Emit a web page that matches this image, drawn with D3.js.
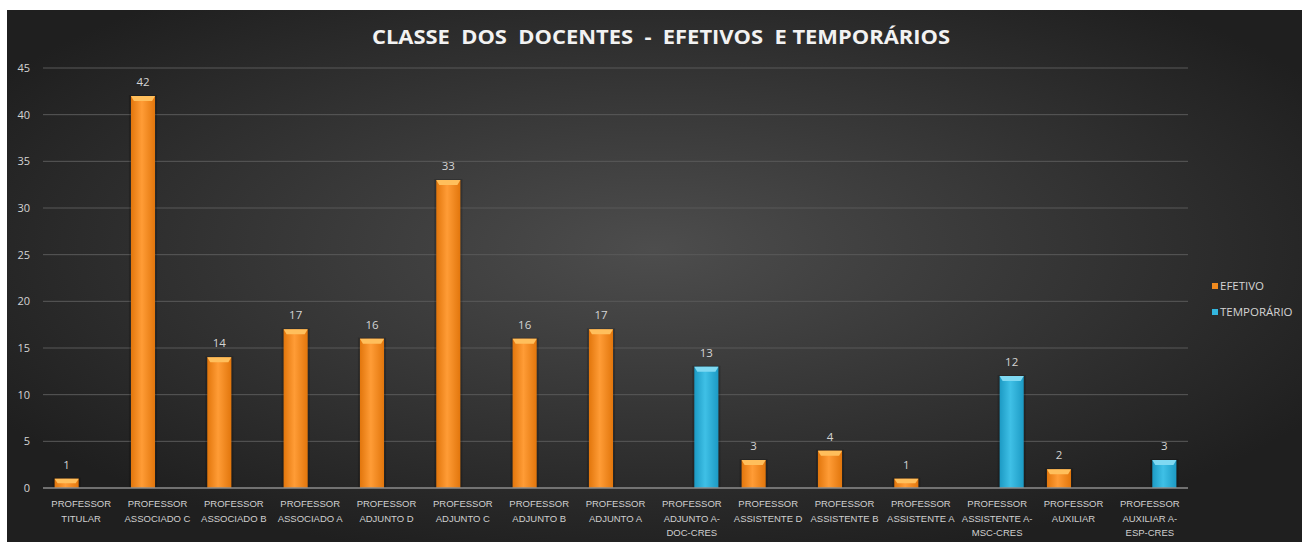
<!DOCTYPE html>
<html>
<head>
<meta charset="utf-8">
<script src="https://cdn.jsdelivr.net/npm/d3@7"></script>
<style>
  body { margin: 0; background: #ffffff; }
  svg { display: block; }
</style>
</head>
<body>
<div id="chart"></div>
<script>
// data
var categories = [
  "PROFESSOR|TITULAR", "PROFESSOR|ASSOCIADO C", "PROFESSOR|ASSOCIADO B", "PROFESSOR|ASSOCIADO A",
  "PROFESSOR|ADJUNTO D", "PROFESSOR|ADJUNTO C", "PROFESSOR|ADJUNTO B", "PROFESSOR|ADJUNTO A",
  "PROFESSOR|ADJUNTO A-|DOC-CRES", "PROFESSOR|ASSISTENTE D", "PROFESSOR|ASSISTENTE B",
  "PROFESSOR|ASSISTENTE A", "PROFESSOR|ASSISTENTE A-|MSC-CRES", "PROFESSOR|AUXILIAR",
  "PROFESSOR|AUXILIAR A-|ESP-CRES"
];
var seriesNames = ["EFETIVO", "TEMPORÁRIO"];
var efetivo = [1, 42, 14, 17, 16, 33, 16, 17, 0, 3, 4, 1, 0, 2, 0];
var temporario = [0, 0, 0, 0, 0, 0, 0, 0, 13, 0, 0, 0, 12, 0, 3];
var yTicks = [0, 5, 10, 15, 20, 25, 30, 35, 40, 45];

var svgWidth = 1302;
var svgHeight = 542;

var margin = { top: 68, left: 43, right: 114, bottom: 54 };
var width = svgWidth - margin.left - margin.right;
var height = svgHeight - margin.top - margin.bottom;

var svg = d3.select("#chart")
    .append("svg")
    .attr("width", svgWidth)
    .attr("height", svgHeight);

var defs = svg.append("defs");

// dark background with lighter middle
var bg = defs.append("radialGradient")
    .attr("id", "bg")
    .attr("cx", "50%").attr("cy", "45%").attr("r", "60%");
bg.append("stop").attr("offset", "0%").attr("stop-color", "#4d4d4d");
bg.append("stop").attr("offset", "100%").attr("stop-color", "#1f1f1f");

function barGradient(id, edge, mid) {
    var g = defs.append("linearGradient").attr("id", id)
        .attr("x1", "0%").attr("x2", "100%").attr("y1", "0%").attr("y2", "0%");
    g.append("stop").attr("offset", "0%").attr("stop-color", edge);
    g.append("stop").attr("offset", "45%").attr("stop-color", mid);
    g.append("stop").attr("offset", "100%").attr("stop-color", edge);
}
barGradient("gEfetivo", "#e2760c", "#ff9c36");
barGradient("gTemporario", "#1c9ac4", "#3fc0e6");

var colors = { "EFETIVO": "url(#gEfetivo)", "TEMPORÁRIO": "url(#gTemporario)" };
var capColors = { "EFETIVO": "#ffbf5c", "TEMPORÁRIO": "#7fd9f2" };
var legendColors = { "EFETIVO": "#f08a1e", "TEMPORÁRIO": "#33b6de" };

svg.append("rect")
    .attr("x", 7).attr("y", 10)
    .attr("width", svgWidth - 7).attr("height", svgHeight - 10)
    .attr("fill", "url(#bg)");

var chartGroup = svg.append("g")
    .attr("transform", `translate(${margin.left}, ${margin.top})`);

// scales
var x0 = d3.scaleBand()
    .domain(categories)
    .range([0, width])
    .padding(0);

var bw = x0.bandwidth();
var x1 = d3.scaleBand()
    .domain(seriesNames)
    .range([bw * 0.152, bw * 0.848])
    .paddingInner(0.17);

var y = d3.scaleLinear()
    .domain([0, 45])
    .range([height, 0]);

// gridlines
chartGroup.append("g")
    .selectAll("line")
    .data(yTicks.filter(d => d > 0))
    .enter()
    .append("line")
    .attr("x1", 0).attr("x2", width)
    .attr("y1", d => y(d)).attr("y2", d => y(d))
    .attr("stroke", "#595959")
    .attr("stroke-width", 1);

// y axis labels
var leftAxis = d3.axisLeft(y).tickValues(yTicks).tickSize(0).tickPadding(13);
var yAxis = chartGroup.append("g").call(leftAxis);
yAxis.select(".domain").remove();
yAxis.selectAll("text")
    .attr("fill", "#d4d4d4")
    .style("font-family", "'Open Sans', sans-serif")
    .style("font-size", "11px");

// rows for drawing
var rows = categories.map(function (c, i) {
    return { cat: c, values: [
        { series: "EFETIVO", value: efetivo[i] },
        { series: "TEMPORÁRIO", value: temporario[i] }
    ] };
});

var groups = chartGroup.selectAll(".cat")
    .data(rows)
    .enter()
    .append("g")
    .attr("class", "cat")
    .attr("transform", d => `translate(${x0(d.cat)}, 0)`);

var bars = groups.selectAll(".bar")
    .data(d => d.values.filter(v => v.value > 0))
    .enter()
    .append("g")
    .attr("class", "bar");

// soft shadow around the bar
bars.append("rect")
    .attr("x", d => x1(d.series) - 2)
    .attr("y", d => y(d.value) - 1)
    .attr("width", x1.bandwidth() + 4)
    .attr("height", d => height - y(d.value) + 1)
    .attr("fill", "#000")
    .attr("opacity", 0.18);

bars.append("rect")
    .attr("x", d => x1(d.series))
    .attr("y", d => y(d.value))
    .attr("width", x1.bandwidth())
    .attr("height", d => height - y(d.value))
    .attr("fill", d => colors[d.series]);

// bevelled top
bars.append("path")
    .attr("d", function (d) {
        var xl = x1(d.series), xr = xl + x1.bandwidth(), yt = y(d.value);
        var h = Math.min(5, (height - yt) / 2);
        return `M${xl},${yt}L${xr},${yt}L${xr - 3},${yt + h}L${xl + 3},${yt + h}Z`;
    })
    .attr("fill", d => capColors[d.series]);

// value labels
bars.append("text")
    .attr("x", d => x1(d.series) + x1.bandwidth() / 2)
    .attr("y", d => y(d.value) - 10)
    .attr("text-anchor", "middle")
    .attr("fill", "#d4d4d4")
    .style("font-family", "'Open Sans', sans-serif")
    .style("font-size", "11.5px")
    .text(d => d.value);

// baseline
chartGroup.append("line")
    .attr("x1", 0).attr("x2", width)
    .attr("y1", height).attr("y2", height)
    .attr("stroke", "#8c8c8c")
    .attr("stroke-width", 1.5);

// category labels
var catLabels = chartGroup.selectAll(".catlabel")
    .data(categories)
    .enter()
    .append("text")
    .attr("class", "catlabel")
    .attr("transform", d => `translate(${x0(d) + bw / 2}, ${height + 19})`)
    .attr("text-anchor", "middle")
    .attr("fill", "#d0d0d0")
    .style("font-family", "'Liberation Sans', Arial, sans-serif")
    .style("font-size", "9.5px");

catLabels.selectAll("tspan")
    .data(d => d.split("|"))
    .enter()
    .append("tspan")
    .attr("x", 0)
    .attr("y", (d, i) => i * 14.5)
    .text(d => d);

// title
svg.append("text")
    .attr("x", 661)
    .attr("y", 44)
    .attr("text-anchor", "middle")
    .attr("fill", "#f2f2f2")
    .attr("textLength", 578)
    .attr("lengthAdjust", "spacingAndGlyphs")
    .style("font-family", "'Open Sans', sans-serif")
    .style("font-weight", "bold")
    .style("font-size", "19px")
    .style("white-space", "pre")
    .text("CLASSE  DOS  DOCENTES  -  EFETIVOS  E TEMPORÁRIOS");

// legend
var legend = svg.append("g")
    .attr("transform", "translate(1212, 287)");

var legendItems = legend.selectAll(".leg")
    .data(seriesNames)
    .enter()
    .append("g")
    .attr("transform", (d, i) => `translate(0, ${i * 26})`);

legendItems.append("rect")
    .attr("x", 0).attr("y", -4)
    .attr("width", 6).attr("height", 6)
    .attr("fill", d => legendColors[d]);

legendItems.append("text")
    .attr("x", 8)
    .attr("y", 3)
    .attr("fill", "#d4d4d4")
    .style("font-family", "'Open Sans', sans-serif")
    .style("font-size", "11.5px")
    .text(d => d);
</script>
</body>
</html>
